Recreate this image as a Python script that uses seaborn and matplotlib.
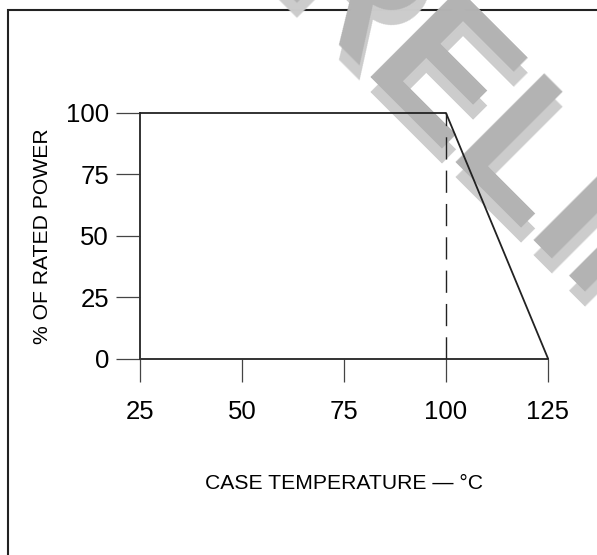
import matplotlib
matplotlib.use("Agg")
import matplotlib.pyplot as plt
from matplotlib.patches import Rectangle
import seaborn as sns

# ---- data ----
case_temp = [25, 100, 125]          # °C
rated_power = [100, 100, 0]         # % of rated power
knee_temp = 100
x_ticks = [25, 50, 75, 100, 125]
y_ticks = [0, 25, 50, 75, 100]
x_label = "CASE TEMPERATURE — °C"
y_label = "% OF RATED POWER"
watermark = "PRELIMINARY"

sns.set_theme(style="white")
plt.rcParams['font.family'] = ['Liberation Sans', 'DejaVu Sans']

W, H, DPI = 597, 555, 100
fig = plt.figure(figsize=(W / DPI, H / DPI), dpi=DPI)
fig.patch.set_facecolor("white")

# axes placement in pixels
x0, x1 = 140, 548
ytop, ybot = 113, 358.5
ax = fig.add_axes([x0 / W, (H - ybot) / H, (x1 - x0) / W, (ybot - ytop) / H])
ax.set_zorder(2)
ax.patch.set_alpha(0)

line_col = "#222222"
sns.lineplot(x=case_temp, y=rated_power, ax=ax, color=line_col, linewidth=1.3,
             clip_on=False, zorder=3)
ax.vlines(knee_temp, 0, 100, colors=line_col, linewidth=1.0,
          linestyles=(0, (16, 8)), clip_on=False, zorder=3)

ax.set_xlim(25, 125)
ax.set_ylim(0, 100)
ax.set_xticks(x_ticks)
ax.set_yticks(y_ticks)
ax.set_xticklabels([str(t) for t in x_ticks])
ax.set_yticklabels([str(t) for t in y_ticks])

for s in ["top", "right"]:
    ax.spines[s].set_visible(False)
for s in ["left", "bottom"]:
    ax.spines[s].set_color("#333333")
    ax.spines[s].set_linewidth(1.4)

ax.tick_params(axis="x", bottom=True, direction="out", length=16.6, width=0.9,
               color="#444444", pad=13.5, labelsize=18.5, labelcolor="black")
ax.tick_params(axis="y", left=True, direction="out", length=17.3, width=0.9,
               color="#444444", pad=5, labelsize=18.5, labelcolor="black")
ax.set_xlabel(x_label, fontsize=15.2, color="black", labelpad=36)
ax.set_ylabel(y_label, fontsize=15.2, color="black", labelpad=10)

# frame around the figure (clipped by the image on right and bottom)
fig.add_artist(Rectangle((7.5 / W, -0.2), 1.5, 1.2 - 10 / H, transform=fig.transFigure,
                         fill=False, linewidth=1.5, edgecolor="#222222", zorder=0))

# watermark with shadow
wx, wy = 181, -100   # pixel position of text origin (top-left origin coords)
fs = 130
fig.text(wx / W, (H - (wy + 15)) / H, watermark, rotation=-45, rotation_mode="anchor",
         ha="left", va="baseline", fontsize=fs, fontweight="bold", color="#cccccc",
         zorder=1)
fig.text(wx / W, (H - wy) / H, watermark, rotation=-45, rotation_mode="anchor",
         ha="left", va="baseline", fontsize=fs, fontweight="bold", color="#b3b3b3",
         zorder=1.1)

fig.savefig("out.png", dpi=DPI)
